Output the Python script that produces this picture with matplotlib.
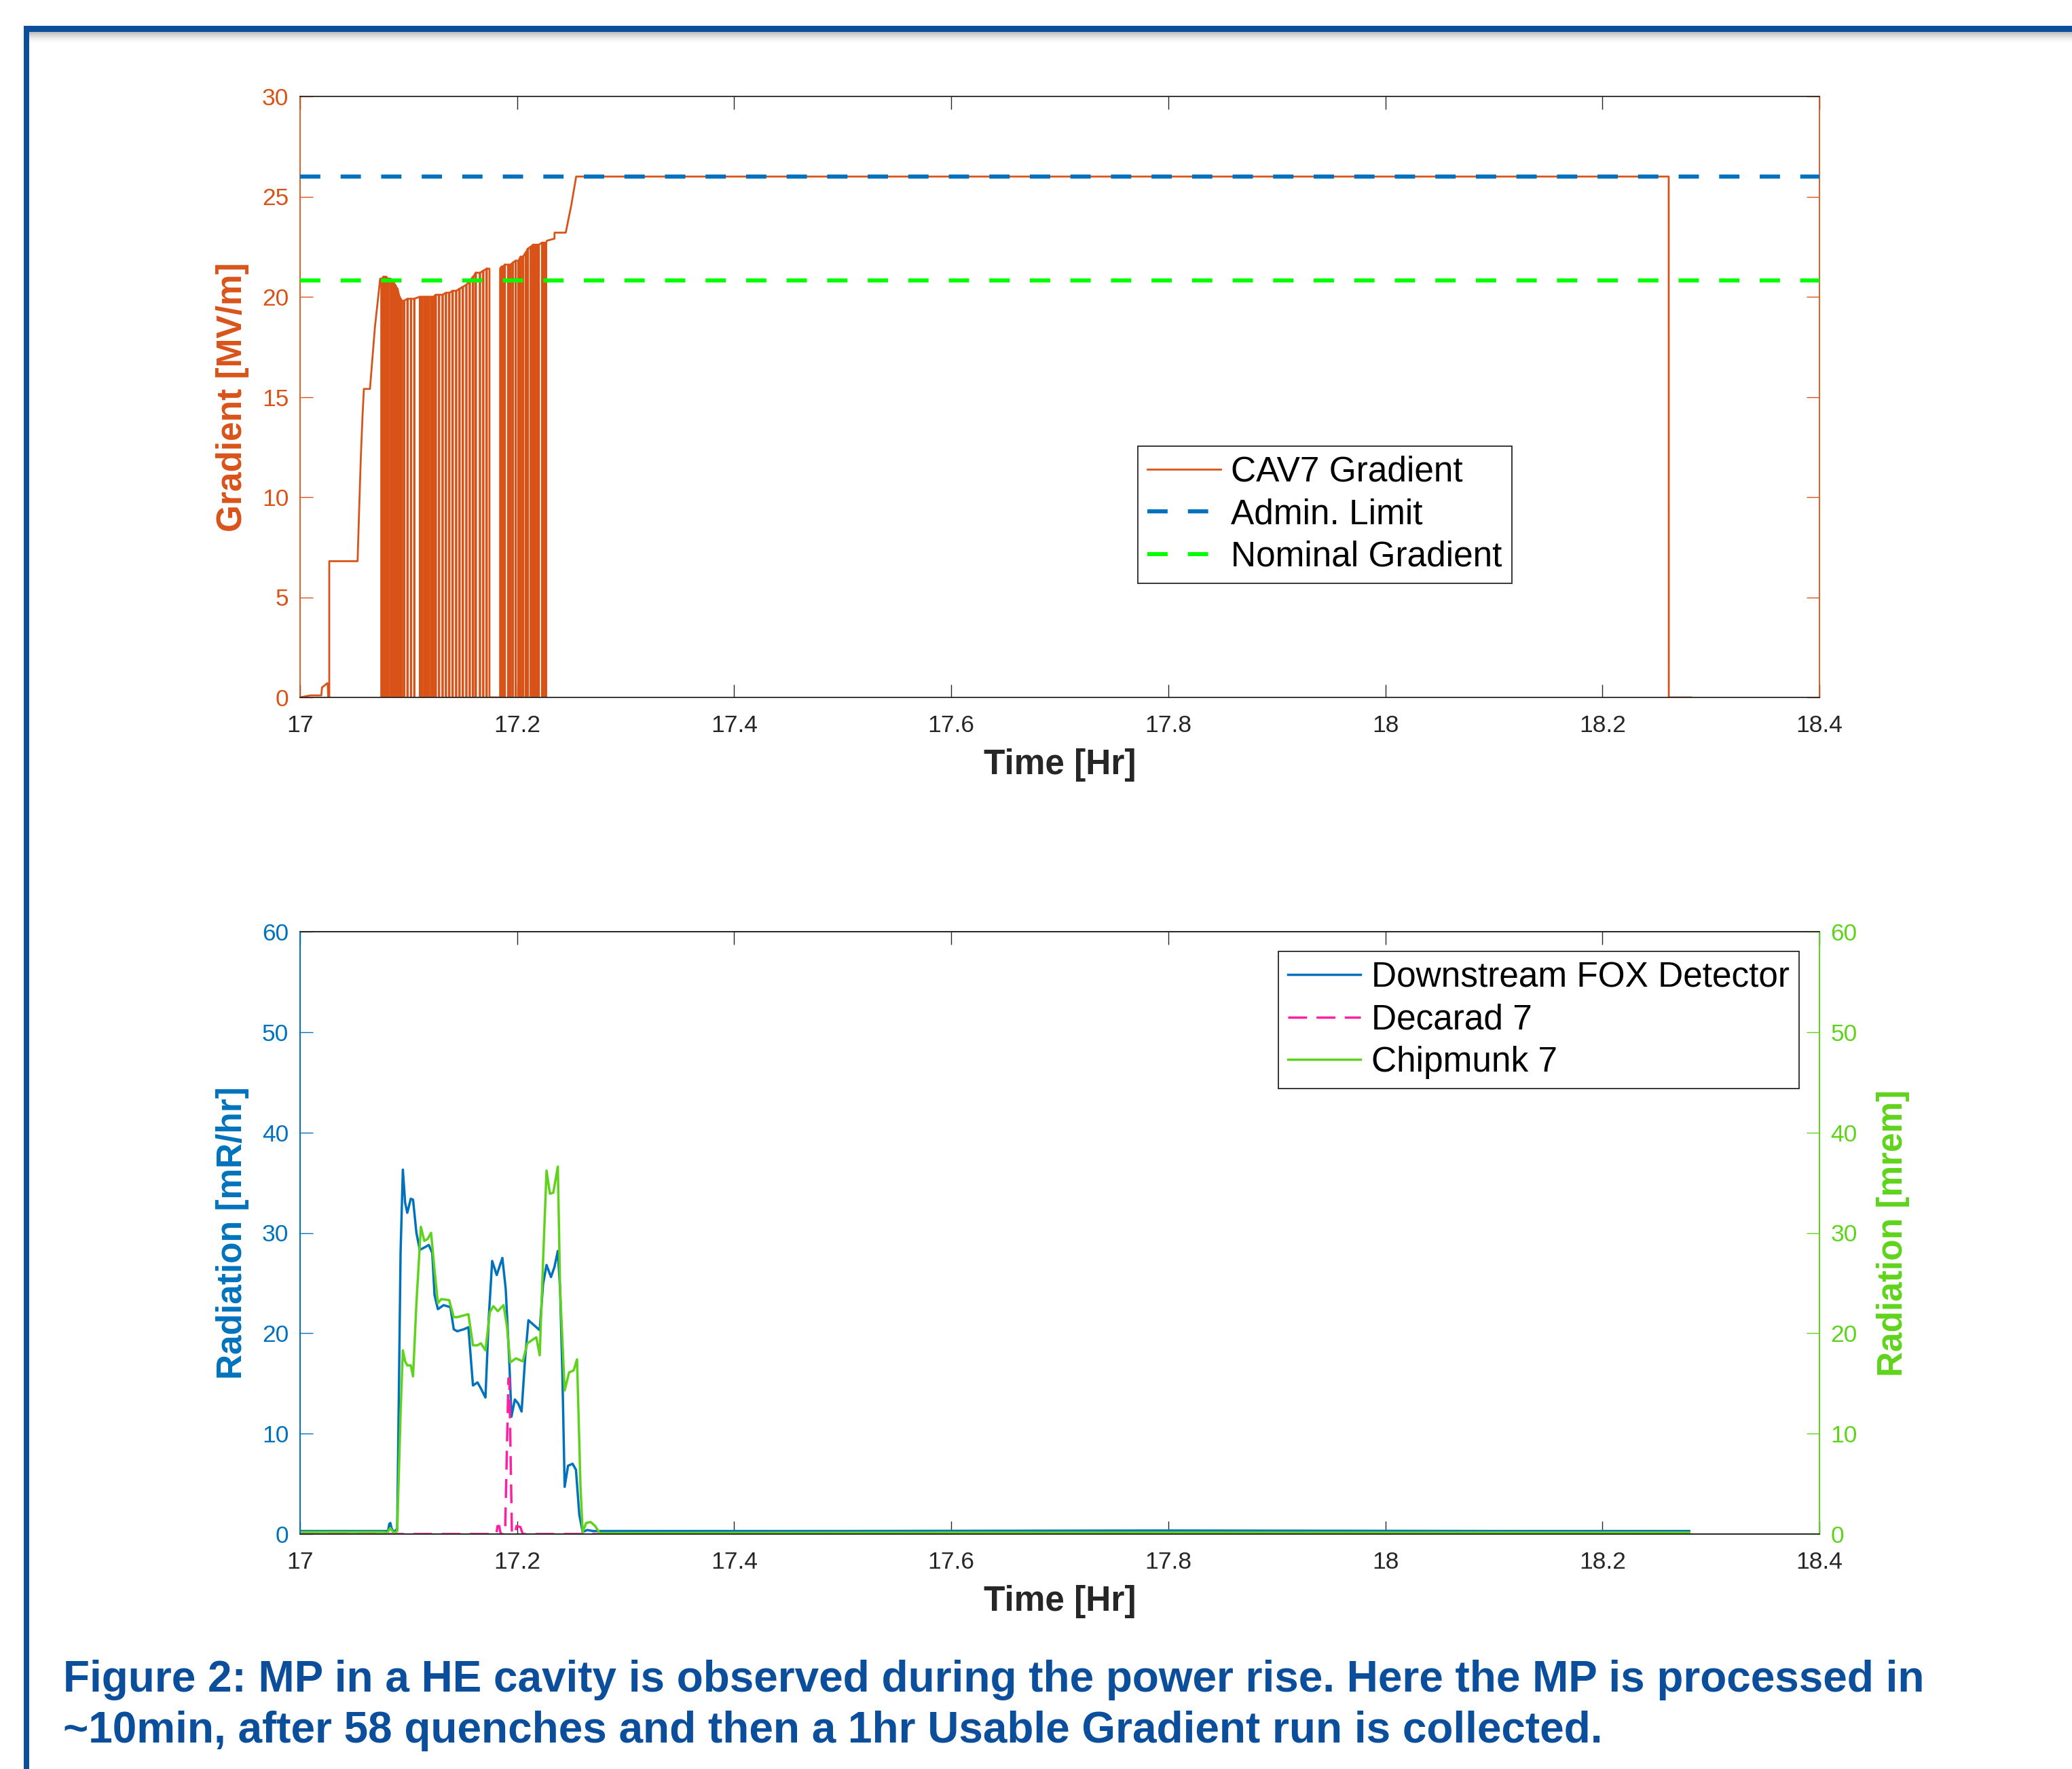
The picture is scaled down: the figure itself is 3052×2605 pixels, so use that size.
import numpy as np
import matplotlib
matplotlib.use("Agg")
import matplotlib.pyplot as plt
from matplotlib.patches import Rectangle

plt.rcParams['font.family'] = ['Liberation Sans', 'DejaVu Sans']

# ---------------- data ----------------
xticks = [17.0, 17.2, 17.4, 17.6, 17.8, 18.0, 18.2, 18.4]
xtick_labels = ['17', '17.2', '17.4', '17.6', '17.8', '18', '18.2', '18.4']
grad_yticks = [0, 5, 10, 15, 20, 25, 30]
rad_yticks = [0, 10, 20, 30, 40, 50, 60]

admin_limit = 26.0
nominal_gradient = 20.8

# CAV7 gradient: power rise before quenches
ramp_t = [17.0, 17.0092, 17.0196, 17.0202, 17.0227, 17.0248, 17.0255, 17.0259,
          17.0269, 17.0269, 17.0530, 17.0545, 17.0560, 17.0575, 17.0588, 17.0644,
          17.0690, 17.0738]
ramp_g = [0.0, 0.1, 0.1, 0.5, 0.6, 0.7, 0.7, 0.0,
          0.0, 6.8, 6.8, 9.5, 12.0, 14.0, 15.4, 15.4,
          18.5, 20.9]

# 58 quenches: time, gradient just before the quench, time spent at zero
quench_t = [17.0749, 17.0769, 17.0790, 17.0811, 17.0832, 17.0853, 17.0874, 17.0895,
            17.0915, 17.0936, 17.0957, 17.0988, 17.1020, 17.1051, 17.1103, 17.1124,
            17.1145, 17.1166, 17.1186, 17.1207, 17.1228, 17.1249, 17.1280, 17.1312,
            17.1343, 17.1374, 17.1405, 17.1437, 17.1468, 17.1499, 17.1531, 17.1562,
            17.1593, 17.1618, 17.1656, 17.1687, 17.1718, 17.1745, 17.1854, 17.1868,
            17.1885, 17.1916, 17.1937, 17.1958, 17.1985, 17.2010, 17.2031, 17.2052,
            17.2077, 17.2098, 17.2125, 17.2146, 17.2166, 17.2181, 17.2198, 17.2229,
            17.2250, 17.2265]
quench_peak = [20.9, 21.0, 21.0, 20.9, 20.9, 20.8, 20.6, 20.4,
               20.0, 19.8, 19.8, 19.9, 19.9, 19.9, 20.0, 20.0,
               20.0, 20.0, 20.0, 20.0, 20.0, 20.1, 20.1, 20.1,
               20.2, 20.2, 20.3, 20.3, 20.4, 20.5, 20.6, 20.8,
               21.0, 21.2, 21.2, 21.3, 21.4, 21.4, 21.5, 21.5,
               21.6, 21.6, 21.6, 21.7, 21.8, 21.8, 22.0, 22.0,
               22.2, 22.4, 22.5, 22.6, 22.6, 22.6, 22.6, 22.7,
               22.7, 22.7]
quench_zero = [0.0003, 0.0003, 0.0003, 0.0003, 0.0003, 0.0003, 0.0003, 0.0003,
               0.0003, 0.0003, 0.0003, 0.0003, 0.0003, 0.0003, 0.0003, 0.0003,
               0.0003, 0.0003, 0.0003, 0.0003, 0.0003, 0.0003, 0.0003, 0.0003,
               0.0003, 0.0003, 0.0003, 0.0003, 0.0003, 0.0003, 0.0003, 0.0003,
               0.0003, 0.0003, 0.0003, 0.0003, 0.0003, 0.0098, 0.0003, 0.0003,
               0.0003, 0.0003, 0.0003, 0.0003, 0.0003, 0.0003, 0.0003, 0.0003,
               0.0003, 0.0003, 0.0003, 0.0003, 0.0003, 0.0003, 0.0003, 0.0003,
               0.0003, 0.0003]

# after processing: rise to admin limit, 1 hr usable gradient run, then off
post_t = [17.2275, 17.2344, 17.2345, 17.2448, 17.2500, 17.2544, 18.2611, 18.2612, 18.2817]
post_g = [22.8, 22.9, 23.2, 23.2, 24.6, 26.0, 26.0, 0.0, 0.0]

# Radiation: Downstream FOX detector [mR/hr]
fox_t = [17.0, 17.0400, 17.0811, 17.0822, 17.0832, 17.0842, 17.0863, 17.0895, 17.0926,
         17.0947, 17.0968, 17.0988, 17.1020, 17.1041, 17.1072, 17.1103, 17.1155,
         17.1186, 17.1218, 17.1239, 17.1270, 17.1322, 17.1385, 17.1416, 17.1447,
         17.1510, 17.1551, 17.1593, 17.1635, 17.1666, 17.1708, 17.1739, 17.1770,
         17.1812, 17.1864, 17.1895, 17.1927, 17.1948, 17.1979, 17.2010, 17.2041,
         17.2073, 17.2104, 17.2135, 17.2177, 17.2208, 17.2239, 17.2271, 17.2312,
         17.2344, 17.2375, 17.2396, 17.2417, 17.2438, 17.2469, 17.2511, 17.2542,
         17.2573, 17.2604, 17.2646, 17.2698, 17.2782, 17.5000, 17.8000, 18.1000,
         18.2800]
fox_v = [0.3, 0.3, 0.3, 1.0, 1.1, 0.6, 0.2, 0.5, 28.0,
         36.3, 33.0, 32.0, 33.4, 33.3, 30.0, 28.3, 28.6,
         28.8, 28.0, 23.8, 22.4, 22.8, 22.6, 20.4, 20.2,
         20.4, 20.6, 14.8, 15.1, 14.5, 13.6, 21.6, 27.2,
         25.8, 27.5, 24.4, 17.4, 11.7, 13.4, 13.0, 12.2,
         17.4, 21.3, 21.0, 20.6, 20.3, 24.9, 26.8, 25.6,
         26.6, 28.2, 24.4, 16.0, 4.7, 6.8, 7.0, 6.4,
         1.9, 0.2, 0.4, 0.3, 0.3, 0.3, 0.35, 0.3,
         0.3]

# Decarad 7 [mR/hr]
deca_t = [17.0, 17.1808, 17.1820, 17.1835, 17.1849, 17.1889, 17.1920, 17.1928,
          17.1952, 17.1979, 17.1995, 17.2030, 17.2052, 18.2800]
deca_v = [0.0, 0.0, 0.8, 0.8, 0.0, 0.0, 15.5, 15.5,
          0.0, 0.0, 0.8, 0.7, 0.0, 0.0]

# Chipmunk 7 [mrem]
chip_t = [17.0, 17.0780, 17.0801, 17.0832, 17.0863, 17.0895, 17.0926, 17.0947,
          17.0968, 17.0988, 17.1020, 17.1041, 17.1072, 17.1113, 17.1145, 17.1176,
          17.1207, 17.1239, 17.1270, 17.1301, 17.1374, 17.1416, 17.1447, 17.1551,
          17.1593, 17.1635, 17.1666, 17.1708, 17.1749, 17.1781, 17.1822, 17.1875,
          17.1906, 17.1937, 17.1989, 17.2052, 17.2094, 17.2135, 17.2177, 17.2208,
          17.2239, 17.2271, 17.2302, 17.2333, 17.2375, 17.2396, 17.2438, 17.2479,
          17.2521, 17.2552, 17.2584, 17.2604, 17.2636, 17.2677, 17.2719, 17.2761,
          17.6000, 18.0000, 18.2800]
chip_v = [0.2, 0.2, 0.1, 0.6, 0.1, 0.3, 12.0, 18.3,
          17.2, 16.8, 16.8, 15.7, 23.0, 30.6, 29.2, 29.4,
          30.0, 26.3, 23.0, 23.4, 23.3, 21.6, 21.6, 21.9,
          18.8, 18.8, 19.0, 18.3, 22.1, 22.7, 22.2, 22.8,
          20.7, 17.1, 17.5, 17.2, 19.0, 19.3, 19.6, 17.8,
          27.2, 36.2, 33.9, 34.0, 36.6, 24.4, 14.3, 16.1,
          16.3, 17.4, 4.7, 0.2, 1.1, 1.2, 0.8, 0.1,
          0.15, 0.15, 0.15]

# ---------------- build gradient series ----------------
grad_t = list(ramp_t)
grad_g = list(ramp_g)
for qt, pk, z in zip(quench_t, quench_peak, quench_zero):
    grad_t += [qt, qt, qt + z, qt + z]
    grad_g += [pk, 0.0, 0.0, pk]
grad_t += post_t
grad_g += post_g

# ---------------- style ----------------
ORANGE = '#D95319'
BLUE = '#0072BD'
NGREEN = '#00FF00'
PINK = '#FF1FA3'
CGREEN = '#5FD31B'
DARK = '#262626'
FRAME = '#0B4F9C'

W, H = 3052, 2605
fig = plt.figure(figsize=(W / 100, H / 100), dpi=100)

def fx(px):
    return px / W

def fy(py):
    return 1 - py / H

L, R = 442, 2680
ax1 = fig.add_axes([fx(L), fy(1027), fx(R - L), (1027 - 142) / H])
ax3 = fig.add_axes([fx(L), fy(2259), fx(R - L), (2259 - 1372) / H])

TICKFS = 25.5
LABELFS = 37
LEGFS = 37
LEGKW = dict(fontsize=LEGFS, frameon=True, fancybox=False, framealpha=1, edgecolor=DARK,
             handlelength=2.1, handletextpad=0.3, labelspacing=0.26, borderpad=0.27,
             borderaxespad=0)

# ---- top plot ----
ax1.plot(grad_t, grad_g, color=ORANGE, lw=2.0, label='CAV7 Gradient', zorder=2)
ax1.axhline(admin_limit, color=BLUE, lw=4.3, ls=(0, (5, 5)), label='Admin. Limit', zorder=3)
ax1.axhline(nominal_gradient, color=NGREEN, lw=4.3, ls=(0, (5, 5)), label='Nominal Gradient', zorder=3)
ax1.set_xlim(17.0, 18.4)
ax1.set_ylim(0, 30)
ax1.set_xticks(xticks)
ax1.set_xticklabels(xtick_labels)
ax1.set_yticks(grad_yticks)
ax1.tick_params(axis='x', direction='in', length=14, width=1.0, top=True, bottom=True,
                colors=DARK, labelsize=TICKFS, pad=18)
ax1.tick_params(axis='y', direction='in', length=14, width=1.0, left=True, right=True,
                colors=ORANGE, labelsize=TICKFS, pad=12)
for s in ['top', 'bottom']:
    ax1.spines[s].set_color(DARK)
    ax1.spines[s].set_linewidth(1.3)
for s in ['left', 'right']:
    ax1.spines[s].set_color(ORANGE)
    ax1.spines[s].set_linewidth(1.3)
ax1.set_xlabel('Time [Hr]', fontsize=LABELFS, fontweight='bold', color=DARK, labelpad=12)
ax1.set_ylabel('Gradient [MV/m]', fontsize=LABELFS, fontweight='bold', color=ORANGE, labelpad=14)
leg1 = ax1.legend(loc='upper left', bbox_to_anchor=(0.5515, 0.418), **LEGKW)
leg1.get_frame().set_linewidth(1.3)

# ---- bottom plot ----
ax4 = ax3.twinx()
l_fox, = ax3.plot(fox_t, fox_v, color=BLUE, lw=2.5, label='Downstream FOX Detector', zorder=2)
l_dec, = ax3.plot(deca_t, deca_v, color=PINK, lw=2.5, ls=(0, (8, 4)), label='Decarad 7', zorder=3)
l_chp, = ax4.plot(chip_t, chip_v, color=CGREEN, lw=2.5, label='Chipmunk 7', zorder=2)
for a in (ax3, ax4):
    a.set_xlim(17.0, 18.4)
    a.set_ylim(0, 60)
    a.set_yticks(rad_yticks)
ax3.set_xticks(xticks)
ax3.set_xticklabels(xtick_labels)
ax3.tick_params(axis='x', direction='in', length=14, width=1.0, top=True, bottom=True,
                colors=DARK, labelsize=TICKFS, pad=18)
ax3.tick_params(axis='y', direction='in', length=14, width=1.0, left=True, right=False,
                colors=BLUE, labelsize=TICKFS, pad=12)
ax4.tick_params(axis='y', direction='in', length=14, width=1.0, left=False, right=True,
                colors=CGREEN, labelsize=TICKFS, pad=12)
for a in (ax3, ax4):
    for s in ['top', 'bottom']:
        a.spines[s].set_color(DARK)
        a.spines[s].set_linewidth(1.3)
    a.spines['left'].set_color(BLUE)
    a.spines['right'].set_color(CGREEN)
    a.spines['left'].set_linewidth(1.3)
    a.spines['right'].set_linewidth(1.3)
ax3.set_xlabel('Time [Hr]', fontsize=LABELFS, fontweight='bold', color=DARK, labelpad=12)
ax3.set_ylabel('Radiation [mR/hr]', fontsize=LABELFS, fontweight='bold', color=BLUE, labelpad=14)
ax4.set_ylabel('Radiation [mrem]', fontsize=LABELFS, fontweight='bold', color=CGREEN, labelpad=20)
leg2 = ax4.legend(handles=[l_fox, l_dec, l_chp], loc='upper right',
                  bbox_to_anchor=(0.9865, 0.967), **LEGKW)
leg2.get_frame().set_linewidth(1.3)

# ---- slide frame ----
fig.add_artist(Rectangle((fx(35), fy(47)), 1 - fx(35), 9 / H, transform=fig.transFigure,
                         facecolor=FRAME, edgecolor='none', zorder=5))
fig.add_artist(Rectangle((fx(35), 0), 8 / W, fy(38), transform=fig.transFigure,
                         facecolor=FRAME, edgecolor='none', zorder=5))
for k in range(16):
    fig.add_artist(Rectangle((fx(43), fy(48 + k)), 1 - fx(43), 1 / H, transform=fig.transFigure,
                             facecolor='#7a7a7a', alpha=0.5 * (1 - k / 16) ** 1.5,
                             edgecolor='none', zorder=4))

# ---- caption ----
fig.text(fx(93), fy(2491), 'Figure 2: MP in a HE cavity is observed during the power rise. Here the MP is processed in',
         fontsize=46, fontweight='bold', color=FRAME, ha='left', va='baseline')
fig.text(fx(93), fy(2566), '~10min, after 58 quenches and then a 1hr Usable Gradient run is collected.',
         fontsize=46, fontweight='bold', color=FRAME, ha='left', va='baseline')

fig.savefig('out.png', dpi=100, facecolor='white')
